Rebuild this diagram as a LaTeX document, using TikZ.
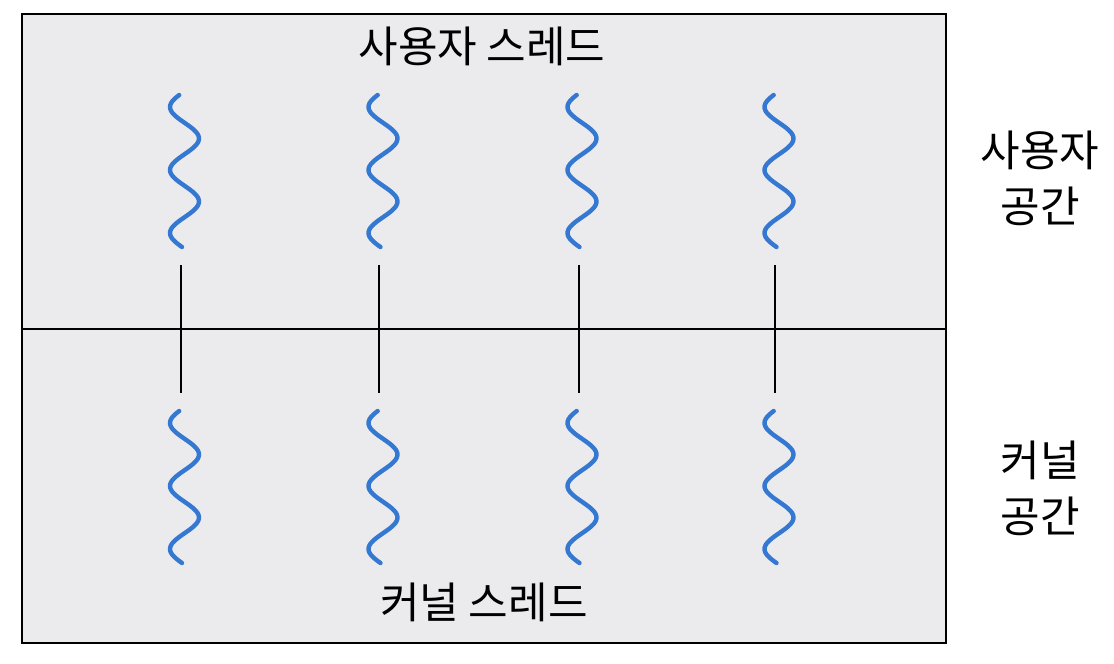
\documentclass[tikz,border=0pt]{standalone}
\usepackage{fontspec}
\newfontfamily\kr{Noto Sans CJK KR}
\definecolor{boxfill}{RGB}{235,235,238}
\definecolor{wavecol}{RGB}{52,120,210}
\begin{document}
\begin{tikzpicture}[x=0.5pt,y=-0.5pt,
  frame/.style={draw=black,line width=1.1pt,fill=boxfill},
  sep/.style={draw=black,line width=1pt},
  link/.style={draw=black,line width=1.1pt},
  wave/.style={draw=wavecol,line width=2.2pt,line cap=round},
  lbl/.style={font=\kr\fontsize{21.5pt}{28pt}\selectfont,text=black,inner sep=0pt,align=center}]
\useasboundingbox (0,0) rectangle (1114,664);
\path[frame] (22,14) rectangle (946,643);
\coordinate (sepL) at (22,329);
\coordinate (sepR) at (946,329);
\draw[sep] (sepL) -- (sepR);
\foreach \i/\lx/\wx in {1/181/184.5,2/379/383,3/579/582,4/775/779}{
  \coordinate (t\i) at (\lx,265);
  \coordinate (b\i) at (\lx,393);
  \draw[link] (t\i) -- (b\i);
  \draw[wave] plot[domain=95:247,samples=80,smooth] ({\wx-14.5*cos((\x-107)/63*360)},{\x});
  \draw[wave] plot[domain=411:563,samples=80,smooth] ({\wx-14.5*cos((\x-423)/63*360)},{\x});
}
\node[lbl] (ut) at (482,46) {사용자 스레드};
\node[lbl] (kt) at (484,602) {커널 스레드};
\node[lbl] (us) at (1040,178) {사용자\\공간};
\node[lbl] (ks) at (1040,488) {커널\\공간};
\end{tikzpicture}
\end{document}
